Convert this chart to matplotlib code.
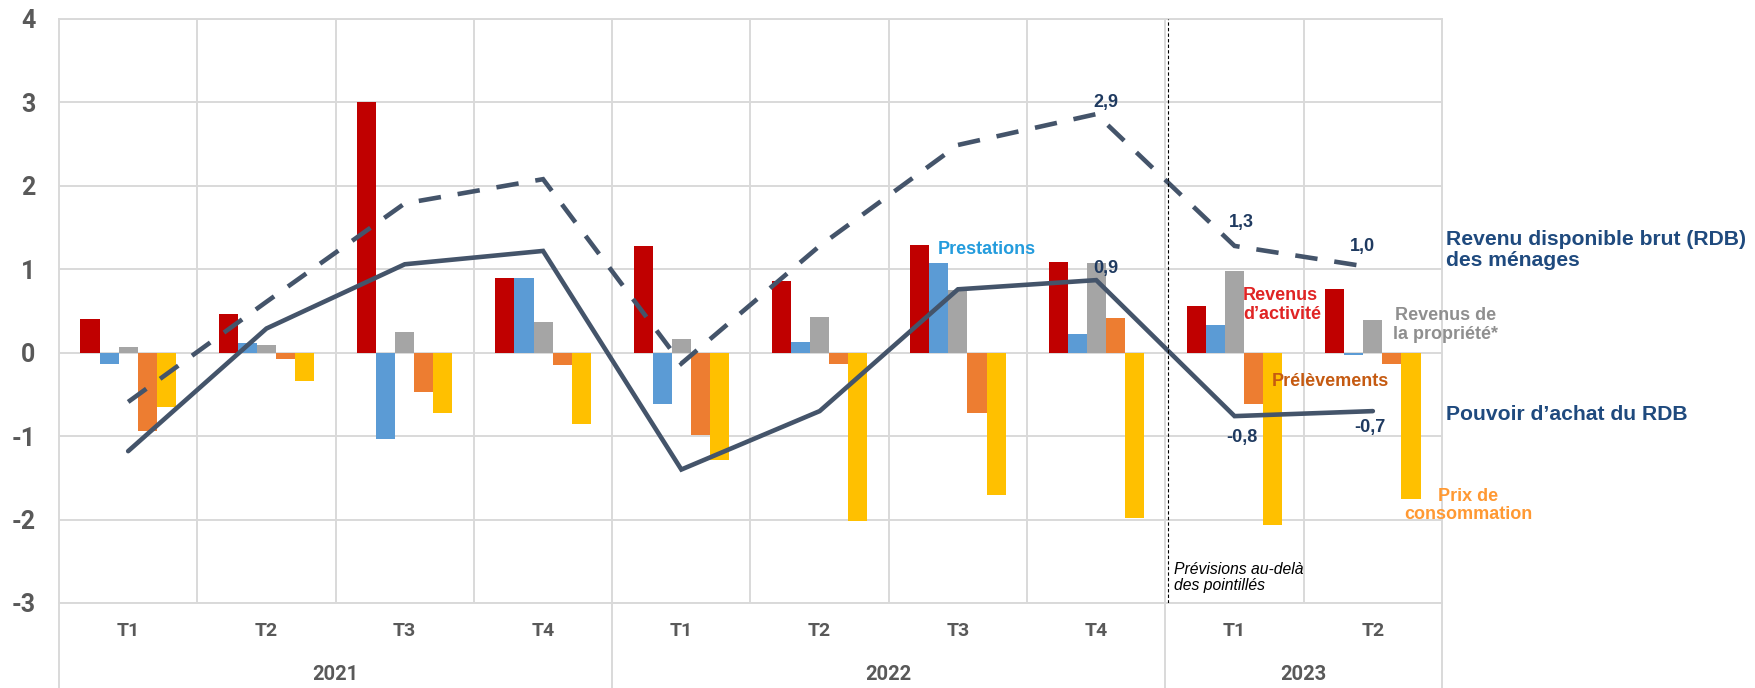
import matplotlib
matplotlib.use("Agg")
import matplotlib.pyplot as plt
import matplotlib.transforms as mtransforms
from matplotlib.lines import Line2D
import numpy as np

# ---------------- data ----------------
quarters = ["T1", "T2", "T3", "T4", "T1", "T2", "T3", "T4", "T1", "T2"]
years = ["2021", "2022", "2023"]
year_spans = [(0, 3), (4, 7), (8, 9)]

revenus_activite = [0.40, 0.46, 3.00, 0.90, 1.28, 0.86, 1.29, 1.09, 0.56, 0.76]
prestations = [-0.13, 0.12, -1.03, 0.90, -0.62, 0.13, 1.07, 0.22, 0.33, -0.03]
revenus_propriete = [0.07, 0.09, 0.25, 0.37, 0.16, 0.43, 0.75, 1.07, 0.98, 0.39]
prelevements = [-0.94, -0.08, -0.47, -0.15, -0.99, -0.13, -0.72, 0.42, -0.62, -0.13]
prix_conso = [-0.65, -0.34, -0.72, -0.85, -1.28, -2.02, -1.70, -1.98, -2.06, -1.75]

rdb = [-0.59, 0.61, 1.79, 2.08, -0.13, 1.28, 2.49, 2.86, 1.28, 1.02]
pouvoir_achat = [-1.18, 0.29, 1.06, 1.22, -1.40, -0.70, 0.76, 0.87, -0.76, -0.70]

yticks = [-3, -2, -1, 0, 1, 2, 3, 4]

# ---------------- styling ----------------
W, H = 1756, 688
DPI = 100
fig = plt.figure(figsize=(W / DPI, H / DPI), dpi=DPI)

ax_left, ax_right = 59.0, 1442.0
ax_top, ax_bottom = 19.0, 603.0
ax = fig.add_axes([ax_left / W, 1 - ax_bottom / H,
                   (ax_right - ax_left) / W, (ax_bottom - ax_top) / H])

grid_c = "#D9D9D9"
line_c = "#44546A"
tick_font = ["Roboto", "DejaVu Sans"]
bar_colors = ["#C00000", "#5B9BD5", "#A5A5A5", "#ED7D31", "#FFC000"]
series = [revenus_activite, prestations, revenus_propriete, prelevements, prix_conso]

x = np.arange(len(quarters))
bw = 0.138
for i, (vals, col) in enumerate(zip(series, bar_colors)):
    ax.bar(x + (i - 2) * bw, vals, width=bw, color=col, zorder=3, linewidth=0)

ax.plot(x, rdb, color=line_c, lw=3.3, linestyle=(0, (4.9, 3.7)),
        dash_capstyle="butt", zorder=4, dash_joinstyle="miter")
ax.plot(x, pouvoir_achat, color=line_c, lw=3.3, zorder=4,
        solid_capstyle="round", solid_joinstyle="miter")

ax.set_xlim(-0.5, len(quarters) - 0.5)
ax.set_ylim(-3, 4)
ax.set_yticks(yticks)
ax.set_yticklabels([str(t) for t in yticks])
ax.set_xticks([])

for yv in yticks:
    ax.axhline(yv, color=grid_c, lw=1.4, zorder=1)
for k in range(1, len(quarters)):
    ax.axvline(k - 0.5, color=grid_c, lw=1.4, zorder=1)
for s in ax.spines.values():
    s.set_color(grid_c)
    s.set_linewidth(1.4)

ax.tick_params(axis="y", length=0, pad=17, labelsize=18, labelcolor="#595959")
for lab in ax.get_yticklabels():
    lab.set_fontfamily(tick_font)
    lab.set_fontweight("bold")

# forecast separator
ax.plot([7.52, 7.52], [-3, 4], color="black", lw=0.8, linestyle=(0, (3, 2)), zorder=5)

# category axis
trans = mtransforms.blended_transform_factory(ax.transData, ax.transAxes)
ax_h = ax_bottom - ax_top
for xi, q in zip(x, quarters):
    ax.text(xi, -(631.5 - ax_bottom) / ax_h, q, transform=trans, ha="center", va="center",
            fontsize=14, fontweight="bold", color="#595959", fontfamily=tick_font)
for (a, b), yr in zip(year_spans, years):
    ax.text((a + b) / 2, -(675 - ax_bottom) / ax_h, yr, transform=trans, ha="center",
            va="center", fontsize=14.5, fontweight="bold", color="#595959",
            fontfamily=tick_font)
for xs in [-0.5, 3.5, 7.5, 9.5]:
    ax.add_line(Line2D([xs, xs], [0, -0.2], transform=trans, color=grid_c, lw=1.4,
                       clip_on=False))

# data labels
lab_c = "#1F3A60"
def fmt(v):
    return f"{v:.1f}".replace(".", ",")

label_specs = [
    (rdb, 7, 10, 12),
    (pouvoir_achat, 7, 10, 12),
    (rdb, 8, 7, 23),
    (rdb, 9, -10, 21),
    (pouvoir_achat, 8, 7, -21),
    (pouvoir_achat, 9, -3, -16),
]
for ser, idx, dx, dy in label_specs:
    ax.annotate(fmt(ser[idx]), (x[idx], ser[idx]), xytext=(dx, dy),
                textcoords="offset pixels", ha="center", va="center",
                fontsize=13, fontweight="bold", color=lab_c,
                fontfamily="Liberation Sans", zorder=6)

# series annotations (figure pixel coords)
def ftext(px, py, s, **kw):
    fig.text(px / W, 1 - py / H, s, fontfamily="Liberation Sans", **kw)

ftext(938, 249, "Prestations", ha="left", va="center", fontsize=13,
      fontweight="bold", color="#249CDD")
ftext(1243, 305, "Revenus\nd’activité", ha="left", va="center", fontsize=13,
      fontweight="bold", color="#E02424", linespacing=1.08)
ftext(1446, 325, "Revenus de\nla propriété*", ha="center", va="center", fontsize=13,
      fontweight="bold", color="#8F8F8F", linespacing=1.08)
ftext(1272, 381.7, "Prélèvements", ha="left", va="center", fontsize=13,
      fontweight="bold", color="#C55A11")
ftext(1468, 505.5, "Prix de\nconsommation", ha="center", va="center", fontsize=13,
      fontweight="bold", color="#FF9933", linespacing=1.08)
ftext(1446.5, 250, "Revenu disponible brut (RDB)\ndes ménages", ha="left", va="center",
      fontsize=15.2, fontweight="bold", color="#1F4A7E", linespacing=1.1)
ftext(1446.5, 415, "Pouvoir d’achat du RDB", ha="left", va="center",
      fontsize=15.2, fontweight="bold", color="#1F4A7E")
ftext(1174, 577.7, "Prévisions au-delà\ndes pointillés", ha="left", va="center",
      fontsize=11.3, style="italic", color="black", linespacing=1.12)

fig.savefig("out.png", dpi=DPI)
